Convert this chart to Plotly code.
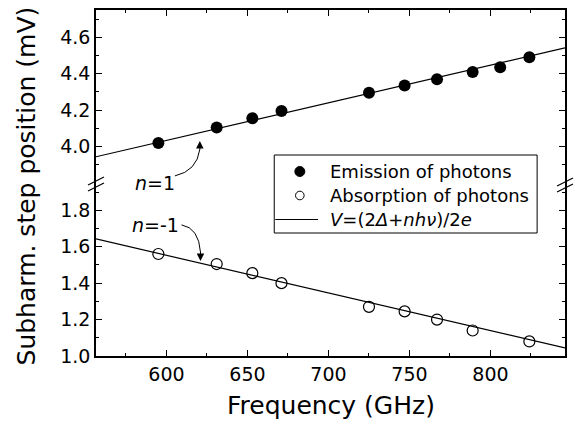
import plotly.graph_objects as go

# ---- data ----
freq_emission = [595, 631, 653, 671, 725, 747, 767, 789, 806, 824]
v_emission = [4.02, 4.105, 4.155, 4.195, 4.295, 4.335, 4.37, 4.41, 4.435, 4.49]
freq_absorption = [595, 631, 653, 671, 725, 747, 767, 789, 824]
v_absorption = [1.56, 1.505, 1.455, 1.40, 1.27, 1.245, 1.20, 1.14, 1.08]
fit_freq = [556.5, 846]
fit_emission = [3.944, 4.542]
fit_absorption = [1.643, 1.044]

x_range = [556.5, 846]
y_low_range = [1.0, 1.95]
y_high_range = [3.8, 4.75]
y_low_ticks = [1.0, 1.2, 1.4, 1.6, 1.8]
y_high_ticks = [4.0, 4.2, 4.4, 4.6]

legend_labels = ["Emission of photons", "Absorption of photons",
                 "<i>V</i>=(2<i>Δ</i>+<i>nhν</i>)/2<i>e</i>"]

FONT = "DejaVu Sans, Arial, sans-serif"
# plot area in pixels (for paper <-> pixel conversion of decorations)
L, R, T, B = 96, 567, 10, 356
W, H = R - L, B - T


def px(x):
    return (x - L) / W


def py(y):
    return (B - y) / H


fig = go.Figure()

fig.add_trace(go.Scatter(x=fit_freq, y=fit_emission, mode="lines", xaxis="x2", yaxis="y2",
                         line=dict(color="black", width=1.2), hoverinfo="skip"))
fig.add_trace(go.Scatter(x=fit_freq, y=fit_absorption, mode="lines", xaxis="x", yaxis="y",
                         line=dict(color="black", width=1.2), hoverinfo="skip"))
fig.add_trace(go.Scatter(x=freq_emission, y=v_emission, mode="markers", xaxis="x2", yaxis="y2",
                         marker=dict(symbol="circle", size=12, color="black"),
                         name="Emission of photons"))
fig.add_trace(go.Scatter(x=freq_absorption, y=v_absorption, mode="markers", xaxis="x", yaxis="y",
                         marker=dict(symbol="circle-open", size=11, color="black", line=dict(width=1.2)),
                         name="Absorption of photons"))

axis_common = dict(showline=True, linecolor="black", linewidth=1.5, ticks="inside",
                   tickcolor="black", tickwidth=1.2, ticklen=6, showgrid=False, zeroline=False,
                   tickfont=dict(family=FONT, size=19, color="black"))
minor_common = dict(ticks="inside", ticklen=3, tickcolor="black", tickwidth=1.2, showgrid=False)

fig.update_layout(
    width=575, height=421,
    margin=dict(l=L, r=575 - R, t=T, b=421 - B),
    paper_bgcolor="white", plot_bgcolor="white",
    font=dict(family=FONT, color="black"),
    showlegend=False,
    xaxis=dict(domain=[0, 1], anchor="y", range=x_range, tick0=600, dtick=50,
               minor=dict(dtick=25, **minor_common), **axis_common),
    xaxis2=dict(domain=[0, 1], anchor="y2", matches="x", side="top", range=x_range,
                tick0=600, dtick=50, showticklabels=False,
                minor=dict(dtick=25, **minor_common), **axis_common),
    yaxis=dict(domain=[0, 0.5], anchor="x", range=y_low_range, tickmode="array",
               tickvals=y_low_ticks, tickformat=".1f", mirror="ticks",
               minor=dict(tick0=0.9, dtick=0.1, **minor_common), **axis_common),
    yaxis2=dict(domain=[0.5, 1], anchor="x2", range=y_high_range, tickmode="array",
                tickvals=y_high_ticks, tickformat=".1f", mirror="ticks",
                minor=dict(tick0=3.9, dtick=0.1, **minor_common), **axis_common),
)

# ---- legend (frame, samples, labels) ----
fig.add_shape(type="rect", xref="paper", yref="paper", x0=px(275), x1=px(539),
              y0=py(233), y1=py(155), line=dict(color="black", width=1),
              fillcolor="white", layer="above")
row_y = [171.5, 195.5, 219.5]
fig.add_shape(type="circle", xref="paper", yref="paper", xsizemode="pixel", ysizemode="pixel",
              xanchor=px(300.7), yanchor=py(row_y[0]), x0=-5, x1=5, y0=-5, y1=5,
              fillcolor="black", line=dict(color="black", width=1), layer="above")
fig.add_shape(type="circle", xref="paper", yref="paper", xsizemode="pixel", ysizemode="pixel",
              xanchor=px(300.7), yanchor=py(row_y[1]), x0=-4.3, x1=4.3, y0=-4.3, y1=4.3,
              fillcolor="white", line=dict(color="black", width=1), layer="above")
fig.add_shape(type="line", xref="paper", yref="paper", x0=px(276), x1=px(319),
              y0=py(row_y[2]), y1=py(row_y[2]), line=dict(color="black", width=1.2), layer="above")
for lab, ry in zip(legend_labels, row_y):
    fig.add_annotation(text=lab, xref="paper", yref="paper", x=px(329), y=py(ry),
                       xanchor="left", yanchor="middle", showarrow=False,
                       font=dict(family=FONT, size=18, color="black"))

# axis titles
fig.add_annotation(text="Frequency (GHz)", xref="paper", yref="paper", x=0.5, y=0,
                   yanchor="middle", yshift=-49, showarrow=False,
                   font=dict(family=FONT, size=25, color="black"))
fig.add_annotation(text="Subharm. step position (mV)", xref="paper", yref="paper", x=0, y=0.49,
                   xanchor="center", yanchor="middle", xshift=-70, textangle=-90, showarrow=False,
                   font=dict(family=FONT, size=25, color="black"))

# labels n=1, n=-1
fig.add_annotation(text="<i>n</i>=1", xref="x2", yref="y2", x=592.9, y=3.80, showarrow=False,
                   font=dict(family=FONT, size=19, color="black"))
fig.add_annotation(text="<i>n</i>=-1", xref="x", yref="y", x=593.5, y=1.72, showarrow=False,
                   font=dict(family=FONT, size=19, color="black"))

# curved arrows
fig.add_shape(type="path", xref="x2", yref="y2", path="M 605.2,3.839 Q 618.8,3.866 620.6,3.985",
              line=dict(color="black", width=1))
fig.add_annotation(text="", xref="x2", yref="y2", axref="x2", ayref="y2", x=620.6, y=4.031,
                   ax=620.6, ay=3.975, showarrow=True, arrowhead=2, arrowsize=1.5, arrowwidth=1,
                   arrowcolor="black")
fig.add_shape(type="path", xref="x", yref="y", path="M 609.3,1.720 Q 620,1.703 621,1.57",
              line=dict(color="black", width=1))
fig.add_annotation(text="", xref="x", yref="y", axref="x", ayref="y", x=621, y=1.521,
                   ax=621, ay=1.58, showarrow=True, arrowhead=2, arrowsize=1.5, arrowwidth=1,
                   arrowcolor="black")

# axis break marks
for xp, yc in [(96, 184), (567, 185)]:
    for dy in (-3, 3):
        fig.add_shape(type="line", xref="paper", yref="paper",
                      x0=px(xp - 8), x1=px(xp + 8),
                      y0=py(yc + dy + 4), y1=py(yc + dy - 4),
                      line=dict(color="black", width=1.2))

fig.write_html("out.html")
